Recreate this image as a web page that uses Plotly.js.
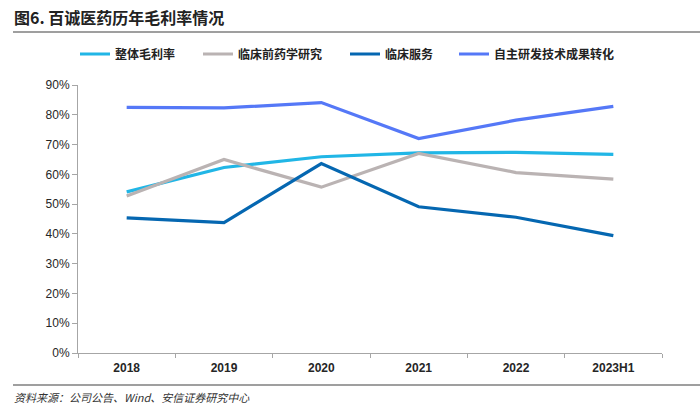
<!DOCTYPE html>
<html><head><meta charset="utf-8">
<script src="https://cdn.plot.ly/plotly-3.0.1.min.js"></script>
<style>html,body{margin:0;padding:0;background:#fff}#c{width:700px;height:414px}</style>
</head><body><div id="c"></div>
<script>
const categories = ['2018','2019','2020','2021','2022','2023H1'];
const overall = [54.1, 62.3, 65.9, 67.2, 67.4, 66.7];
const preclinical = [52.7, 65.0, 55.7, 67.0, 60.6, 58.4];
const clinical = [45.4, 43.8, 63.6, 49.1, 45.6, 39.4];
const selfRD = [82.5, 82.3, 84.1, 72.0, 78.2, 82.8];
const seriesNames = ['整体毛利率','临床前药学研究','临床服务','自主研发技术成果转化'];
const colors = ['#21b6e6','#bab3b3','#0567b1','#5578f7'];
const allSeries = [overall, preclinical, clinical, selfRD];
const cjk = '"Noto Sans CJK SC", sans-serif';
const legendIds = ['legend','legend2','legend3','legend4'];
const legendLeftPx = [75, 198, 345, 454];
const traces = allSeries.map((s,i)=>({
  type:'scatter', mode:'lines', x:categories, y:s.map(v=>v/100), name:seriesNames[i],
  legend:legendIds[i], line:{color:colors[i], width:3.2}, hoverinfo:'skip'
}));
const ML=78, MR=38, MT=85, MB=61, PW=700-ML-MR, PH=414-MT-MB;
const px2x = p => (p-ML)/PW;
const px2y = p => (414-MB-p)/PH;
const layout = {
  width:700, height:414, paper_bgcolor:'#fff', plot_bgcolor:'#fff',
  margin:{l:ML, r:MR, t:MT, b:MB},
  showlegend:true,
  xaxis:{type:'category', range:[-0.5,5.5], showline:true, linecolor:'#a6a6a6', linewidth:1,
    ticks:'outside', tickson:'boundaries', ticklen:4, tickcolor:'#a6a6a6',
    showgrid:false, zeroline:false, ticklabelstandoff:4,
    tickfont:{family:'"Liberation Sans", Arial, sans-serif', size:12, color:'#262626', weight:'bold'}},
  yaxis:{range:[0,0.9], dtick:0.1, tickformat:'.0%', showline:true, linecolor:'#a6a6a6', linewidth:1,
    ticks:'outside', ticklen:5, tickcolor:'#a6a6a6', showgrid:false, zeroline:false,
    tickfont:{family:'"Liberation Sans", Arial, sans-serif', size:12, color:'#262626'}},
  shapes:[
    {type:'line', xref:'paper', yref:'paper', x0:px2x(13), x1:px2x(700), y0:px2y(32), y1:px2y(32), line:{color:'#7f7f7f', width:1.5}},
    {type:'line', xref:'paper', yref:'paper', x0:px2x(13), x1:px2x(700), y0:px2y(385), y1:px2y(385), line:{color:'#7f7f7f', width:1.5}}
  ],
  annotations:[
    {xref:'paper', yref:'paper', x:px2x(12), y:px2y(17), xanchor:'left', yanchor:'middle', showarrow:false,
     text:'图6. 百诚医药历年毛利率情况', font:{family:cjk, size:16, color:'#222', weight:'bold'}},
    {xref:'paper', yref:'paper', x:px2x(12), y:px2y(397), xanchor:'left', yanchor:'middle', showarrow:false,
     text:'<i>资料来源：公司公告、Wind、安信证券研究中心</i>', font:{family:cjk, size:11, color:'#333'}}
  ]
};
legendIds.forEach((id,i)=>{
  layout[id] = {orientation:'h', x:px2x(legendLeftPx[i]), xanchor:'left', y:px2y(54), yanchor:'middle',
    font:{family:cjk, size:12, color:'#222', weight:'bold'}, itemwidth:30, bgcolor:'rgba(0,0,0,0)'};
});
Plotly.newPlot('c', traces, layout, {staticPlot:true, displayModeBar:false});
</script></body></html>
